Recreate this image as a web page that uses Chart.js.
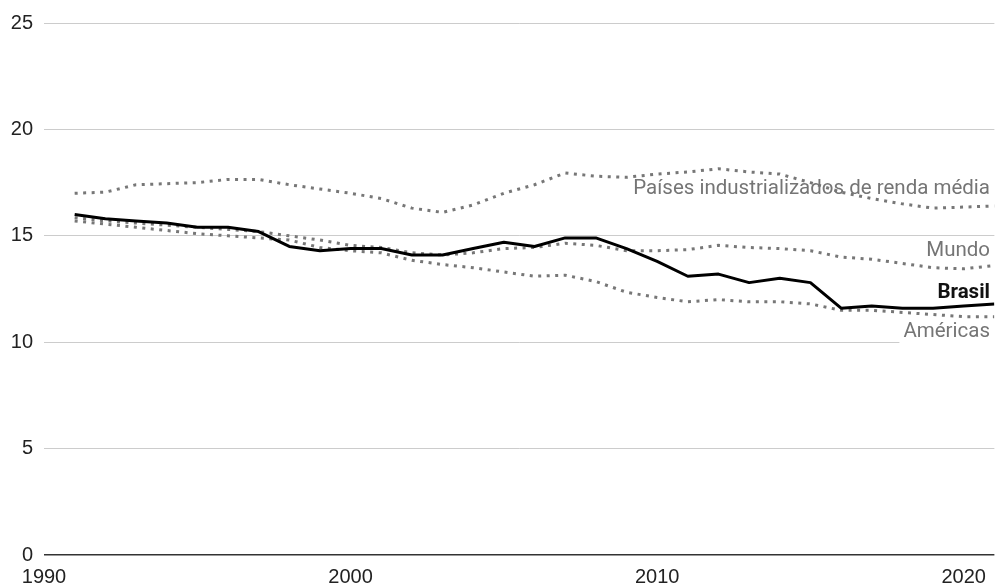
<!DOCTYPE html>
<html lang="pt">
<head>
<meta charset="utf-8">
<script src="https://cdn.jsdelivr.net/npm/chart.js@4/dist/chart.umd.min.js"></script>
<style>
  html, body { margin: 0; padding: 0; background: #fff; }
  #wrap { width: 996px; height: 583px; position: relative; }
</style>
</head>
<body>
<div id="wrap"><canvas id="c"></canvas></div>
<script>
// Years 1991–2021
const years = [1991,1992,1993,1994,1995,1996,1997,1998,1999,2000,2001,2002,2003,2004,2005,2006,2007,2008,2009,2010,2011,2012,2013,2014,2015,2016,2017,2018,2019,2020,2021];

const brasil = [16.0,15.8,15.7,15.6,15.4,15.4,15.2,14.5,14.3,14.4,14.4,14.1,14.1,14.4,14.7,14.5,14.9,14.9,14.4,13.8,13.1,13.2,12.8,13.0,12.8,11.6,11.7,11.6,11.6,11.7,11.8];

const paisesIndustrializados = [17.0,17.05,17.4,17.45,17.5,17.65,17.65,17.4,17.2,17.0,16.75,16.3,16.1,16.45,17.0,17.4,17.95,17.8,17.75,17.9,18.0,18.15,18.0,17.9,17.5,17.05,16.75,16.5,16.3,16.35,16.4];

const mundo = [15.85,15.7,15.6,15.5,15.4,15.3,15.2,15.0,14.8,14.55,14.45,14.2,14.1,14.2,14.4,14.45,14.65,14.55,14.3,14.3,14.35,14.55,14.45,14.4,14.3,14.0,13.9,13.7,13.5,13.45,13.6];

const americas = [15.7,15.55,15.4,15.25,15.1,15.0,14.9,14.8,14.45,14.3,14.2,13.85,13.65,13.5,13.3,13.1,13.15,12.85,12.35,12.1,11.9,12.0,11.9,11.9,11.8,11.5,11.5,11.4,11.3,11.2,11.2];

const yTicks = [0, 5, 10, 15, 20, 25];
const xTicks = [1990, 2000, 2010, 2020];

const seriesNames = ['Brasil', 'Países industrializados de renda média', 'Mundo', 'Américas'];

const toPoints = vals => vals.map((v, i) => ({ x: years[i], y: v }));

const GRAY = '#777777';
const dotted = {
  borderColor: GRAY,
  borderWidth: 3,
  borderDash: [3, 5.5],
  borderCapStyle: 'butt',
  pointRadius: 0,
  tension: 0,
  fill: false
};

// Series names written at the right end of the lines
const endLabels = [
  { text: seriesNames[1], y: 16.97, color: '#757575', weight: '400' },
  { text: seriesNames[2], y: 14.07, color: '#757575', weight: '400' },
  { text: seriesNames[0], y: 12.10, color: '#111111', weight: '700' },
  { text: seriesNames[3], y: 10.23, color: '#757575', weight: '400', box: true }
];

const endLabelPlugin = {
  id: 'endLabels',
  afterDatasetsDraw(chart) {
    const { ctx, scales, chartArea } = chart;
    const xr = 990;
    ctx.save();
    endLabels.forEach(l => {
      ctx.font = l.weight + ' 20.5px Roboto';
      const yb = scales.y.getPixelForValue(l.y);
      if (l.box) {
        const w = ctx.measureText(l.text).width;
        ctx.fillStyle = '#ffffff';
        ctx.fillRect(xr - w - 4, yb - 11, chartArea.right - (xr - w - 4) + 2, 17);
      }
      ctx.fillStyle = l.color;
      ctx.textAlign = 'right';
      ctx.textBaseline = 'alphabetic';
      ctx.fillText(l.text, xr, yb);
    });
    ctx.restore();
  }
};

new Chart(document.getElementById('c'), {
  type: 'line',
  data: {
    datasets: [
      { label: seriesNames[0], data: toPoints(brasil), borderColor: '#000000', borderWidth: 3, pointRadius: 0, tension: 0, fill: false, borderJoinStyle: 'round' },
      Object.assign({ label: seriesNames[1], data: toPoints(paisesIndustrializados) }, dotted),
      Object.assign({ label: seriesNames[2], data: toPoints(mundo) }, dotted),
      Object.assign({ label: seriesNames[3], data: toPoints(americas) }, dotted)
    ]
  },
  options: {
    responsive: true,
    maintainAspectRatio: false,
    animation: false,
    events: [],
    layout: { padding: { top: 10, right: 1, left: 0, bottom: 0 } },
    plugins: {
      legend: { display: false },
      tooltip: { enabled: false }
    },
    scales: {
      x: {
        type: 'linear',
        min: 1990,
        max: 2021,
        afterBuildTicks: s => { s.ticks = xTicks.map(v => ({ value: v })); },
        ticks: {
          callback: v => String(v),
          color: '#222222',
          font: { family: 'Liberation Sans', size: 20 },
          padding: 10,
          maxRotation: 0,
          autoSkip: false
        },
        grid: { display: false, drawTicks: false },
        border: { display: false },
        afterFit: s => { s.height = 28; }
      },
      y: {
        min: 0,
        max: 25,
        afterBuildTicks: s => { s.ticks = yTicks.map(v => ({ value: v })); },
        ticks: {
          color: '#222222',
          font: { family: 'Liberation Sans', size: 20 },
          padding: 11
        },
        grid: {
          drawTicks: false,
          lineWidth: c => (c.tick && c.tick.value === 0 ? 1.5 : 1),
          color: c => (c.tick && c.tick.value === 0 ? '#333333' : '#cccccc')
        },
        border: { display: false },
        afterFit: s => { s.width = 44; }
      }
    }
  },
  plugins: [endLabelPlugin]
});
</script>
</body>
</html>
